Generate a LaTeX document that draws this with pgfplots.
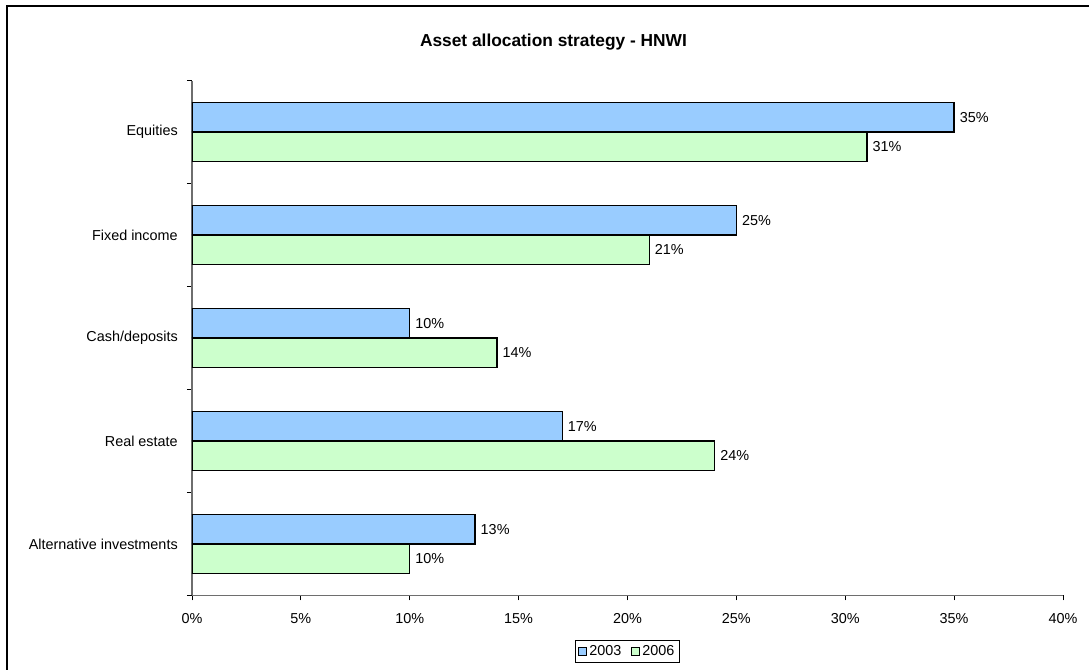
\documentclass[border=0pt]{standalone}
\usepackage{fontspec}
\setmainfont{Liberation Sans}
\usepackage{pgfplots}
\pgfplotsset{compat=1.18}
\definecolor{cblue}{RGB}{153,204,255}
\definecolor{cgreen}{RGB}{204,255,204}
\definecolor{axgray}{RGB}{110,110,110}
\newcommand{\lblfont}{\fontsize{10.8}{12.5}\selectfont}
\begin{document}
\begin{tikzpicture}
\useasboundingbox (0pt,0pt) rectangle (816.75pt,-502.5pt);
\draw[line width=1.5pt] (5.25pt,-4.5pt) rectangle (845.25pt,-525pt);
\node[font=\fontsize{13}{15}\selectfont\bfseries, anchor=base] at (415.1pt,-35.25pt) {Asset allocation strategy - HNWI};
\begin{axis}[
  at={(144pt,-446.5pt)}, anchor=south west,
  scale only axis, width=653.25pt, height=386pt,
  xbar, xmin=0, xmax=40, ymin=-0.5, ymax=4.5,
  axis lines*=left,
  axis line style={draw=axgray, line width=0.9pt},
  tick align=outside,
  major tick length=3.75pt, minor tick length=3.75pt,
  tick style={draw=black, line width=0.7pt},
  major y tick style={draw=none},
  xtick={0,5,...,40},
  xticklabel={\pgfmathprintnumber{\tick}\%},
  ytick={0,1,2,3,4},
  yticklabels={Alternative investments, Real estate, Cash/deposits, Fixed income, Equities},
  minor ytick={-0.5,0.5,1.5,2.5,3.5,4.5},
  /pgf/number format/assume math mode=true,
  tick label style={font=\lblfont, text=black},
  yticklabel style={inner sep=0pt, xshift=-6.75pt},
  xticklabel style={yshift=-6pt},
  bar width=22pt,
  nodes near coords={\pgfmathprintnumber{\pgfplotspointmeta}\%},
  every node near coord/.append style={font=\lblfont, anchor=west, inner sep=3.75pt},
  legend style={at={(0.5,0)}, anchor=north, yshift=-33.5pt, legend columns=2,
    draw=black, line width=0.6pt, font=\lblfont, inner sep=1.8pt,
    /tikz/every even column/.append style={column sep=5pt}},
  legend image code/.code={\draw[#1, line width=0.6pt] (0pt,-3pt) rectangle (6pt,3pt);},
]
\addplot[fill=cblue, draw=black, line width=1pt, bar shift=11pt]
  coordinates {(13,0) (17,1) (10,2) (25,3) (35,4)};
\addplot[fill=cgreen, draw=black, line width=1pt, bar shift=-11pt]
  coordinates {(10,0) (24,1) (14,2) (21,3) (31,4)};
\legend{2003,2006}
\end{axis}
\end{tikzpicture}
\end{document}
